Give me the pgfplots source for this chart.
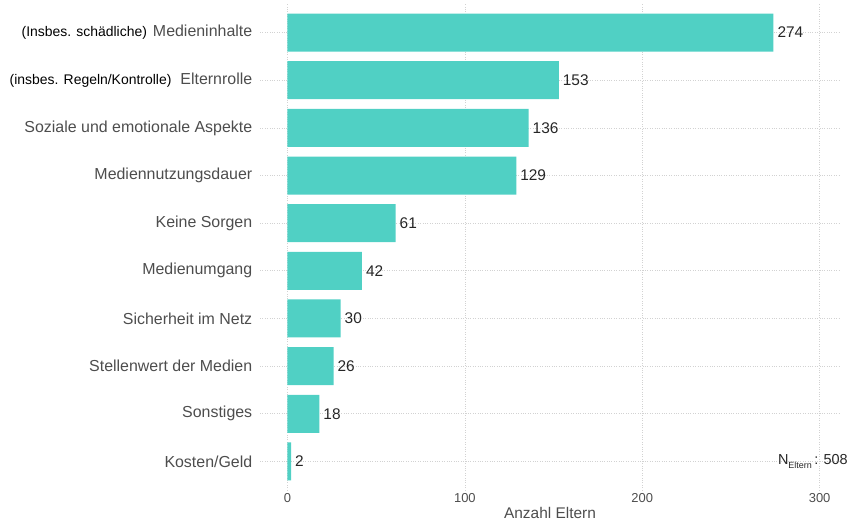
\documentclass[border=0pt]{standalone}
\usepackage{pgfplots}
\pgfplotsset{compat=1.18}
\usepackage{fontspec}
\setmainfont{Liberation Sans}
\definecolor{barcol}{HTML}{50D0C4}
\definecolor{labcol}{HTML}{4D4D4D}
\definecolor{gridcol}{HTML}{D2D2D2}

\begin{document}
\begin{tikzpicture}[x=1bp,y=1bp]
\begin{axis}[
    at={(260bp,34bp)}, anchor=south west,
    scale only axis, width=580bp, height=486bp,
    xbar, bar width=38bp,
    xmin=-15.5, xmax=311.5,
    ymin=-0.6, ymax=9.6,
    ytick={0,...,9},
    yticklabels={
        Kosten/Geld,
        Sonstiges,
        Stellenwert der Medien,
        Sicherheit im Netz,
        Medienumgang,
        Keine Sorgen,
        Mediennutzungsdauer,
        Soziale und emotionale Aspekte,
        {{\fontsize{14}{16}\selectfont\color{black}(insbes. Regeln/Kontrolle)}\hspace{9bp}Elternrolle},
        {{\fontsize{14}{16}\selectfont\color{black}(Insbes. schädliche)}\hspace{6bp}Medieninhalte}
    },
    xtick={0,100,200,300},
    axis line style={draw=none},
    tick style={draw=none},
    grid=major,
    major grid style={dotted, gridcol, line width=0.7pt},
    /pgf/number format/assume math mode=true,
    yticklabel style={font=\fontsize{16}{18}\selectfont, text=labcol},
    xticklabel style={font=\fontsize{13}{15}\selectfont, text=labcol},
    xlabel={Anzahl Eltern},
    xlabel style={font=\fontsize{15.5}{17}\selectfont, text=labcol, yshift=2bp},
    nodes near coords,
    every node near coord/.append style={font=\fontsize{15.5}{17}\selectfont, text=black!85, anchor=west, xshift=0.5bp},
    clip=false,
]
\addplot[fill=barcol, draw=none] coordinates {
    (2,0)
    (18,1)
    (26,2)
    (30,3)
    (42,4)
    (61,5)
    (129,6)
    (136,7)
    (153,8)
    (274,9)
};
\node[anchor=east, font=\fontsize{14.5}{16}\selectfont, text=black!85, inner sep=0pt]
    at (axis cs:316,0) {N\raisebox{-0.45ex}{\fontsize{9}{10}\selectfont Eltern}\,: 508};
\end{axis}
\pgfresetboundingbox
\path (0,0) rectangle (850bp,524bp);
\end{tikzpicture}
\end{document}
